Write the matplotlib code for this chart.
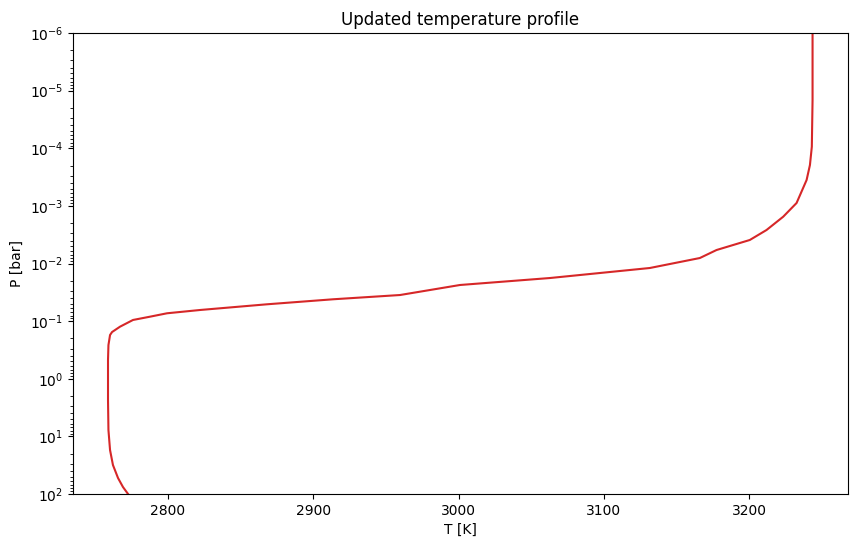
import matplotlib
matplotlib.use("Agg")
import matplotlib.pyplot as plt

T = [3243.7, 3243.7, 3243.2, 3241.9, 3239.6, 3232.7, 3223.5, 3212.0, 3200.5, 3177.6,
     3166.1, 3131.7, 3062.9, 3001.0, 2959.7, 2913.6, 2868.1, 2822.0, 2799.3, 2787.6,
     2775.9, 2767.0, 2761.5, 2760.1, 2759.0, 2758.7, 2758.7, 2759.0, 2760.1, 2762.1,
     2765.6, 2769.0, 2772.5]
logP = [-6.0, -4.837, -4.027, -3.709, -3.449, -3.050, -2.812, -2.581, -2.408, -2.234,
        -2.095, -1.922, -1.748, -1.627, -1.453, -1.379, -1.292, -1.193, -1.136, -1.077,
        -1.020, -0.904, -0.811, -0.759, -0.585, -0.325, 0.369, 0.890, 1.237, 1.497,
        1.723, 1.879, 2.0]
P = [10 ** v for v in logP]

fig = plt.figure(figsize=(8.57, 5.47), dpi=100)
ax = fig.add_axes([73/857, 1-494/547, 775/857, 461/547])
ax.plot(T, P, color="tab:red")
ax.set_yscale("log")
ax.set_ylim(1e2, 1e-6)
ax.set_xlim(2734.6, 3268.1)
ax.set_xlabel("T [K]")
ax.set_ylabel("P [bar]")
ax.set_title("Updated temperature profile")
fig.savefig("out.png", dpi=100)
